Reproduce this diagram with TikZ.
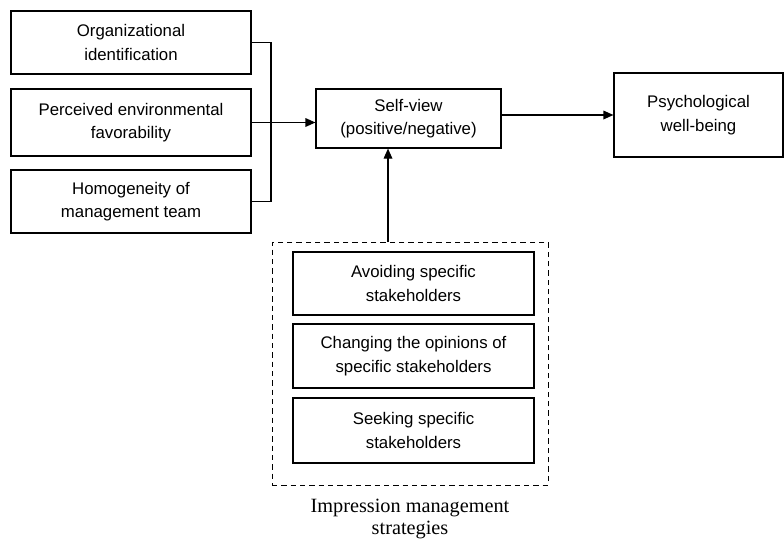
\documentclass[tikz,border=0pt]{standalone}
\usepackage{fontspec}
\setmainfont{Liberation Serif}
\setsansfont{Liberation Sans}
\usetikzlibrary{arrows.meta}

\tikzset{
  factor/.style={draw, line width=0.9pt, align=center, inner sep=0pt,
    font=\sffamily\fontsize{12.6}{17.5}\selectfont},
  link/.style={line width=0.9pt, -{Triangle[length=7.5pt,width=6.5pt]}},
  bracket/.style={line width=0.9pt}
}

\begin{document}
\begin{tikzpicture}[x=0.75pt,y=-0.75pt]

  \useasboundingbox (0,0) rectangle (784,542);

  % antecedents
  \node[factor, minimum width=240*0.75pt, minimum height=63*0.75pt]
    (org) at (131,42.5) {Organizational\\identification};
  \node[factor, minimum width=240*0.75pt, minimum height=67*0.75pt]
    (perc) at (131,122.5) {Perceived environmental\\favorability};
  \node[factor, minimum width=240*0.75pt, minimum height=63*0.75pt]
    (homo) at (131,201.5) {Homogeneity of\\management team};

  % self-view and outcome
  \node[factor, minimum width=185*0.75pt, minimum height=59*0.75pt]
    (self) at (408.5,118.5) {Self-view\\(positive/negative)};
  \node[factor, minimum width=169*0.75pt, minimum height=84*0.75pt]
    (psych) at (698.5,115) {Psychological\\well-being};

  % impression management strategies
  \node[draw, dashed, dash pattern=on 4pt off 3pt, line width=0.7pt,
    minimum width=276*0.75pt, minimum height=243*0.75pt, inner sep=0pt]
    (imp) at (410,363.5) {};
  \node[factor, minimum width=241*0.75pt, minimum height=63*0.75pt]
    (avoid) at (413.5,283.5) {Avoiding specific\\stakeholders};
  \node[factor, minimum width=241*0.75pt, minimum height=64*0.75pt]
    (change) at (413.5,356) {Changing the opinions of\\specific stakeholders};
  \node[factor, minimum width=241*0.75pt, minimum height=65*0.75pt]
    (seek) at (413.5,430.5) {Seeking specific\\stakeholders};
  \node[align=center, font=\fontsize{15.2}{17}\selectfont]
    (implabel) at (410,519) {Impression management\\strategies};

  % connectors
  \coordinate (join) at (271,122.5);
  \draw[bracket] (org.east) -- (org.east -| join) -- (homo.east -| join)
    -- (homo.east);
  \draw[link] (perc.east) -- (perc.east -| self.west);
  \draw[link] (self.east |- psych.west) -- (psych.west);
  \coordinate (up) at (388,242);
  \draw[link] (up) -- (up |- self.south);

\end{tikzpicture}
\end{document}
